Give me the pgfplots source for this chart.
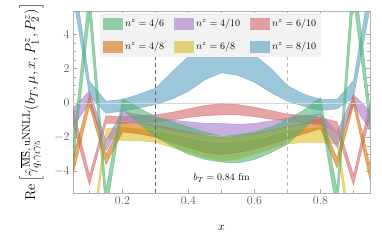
\documentclass[border=0pt]{standalone}
\usepackage{pgfplots}
\pgfplotsset{compat=1.18}
\usepackage{pgfplotstable}
\usepgfplotslibrary{fillbetween}

\definecolor{cgreen}{RGB}{80,180,113}
\definecolor{corange}{RGB}{213,113,13}
\definecolor{cpurple}{RGB}{163,122,205}
\definecolor{cred}{RGB}{213,105,105}
\definecolor{cyellow}{RGB}{218,190,38}
\definecolor{cblue}{RGB}{90,160,192}

\pgfplotstableread{
x lo hi
0.05 6.2 7.9
0.10 0.4 1.25
0.15 -0.6 0.1
0.20 -0.5 0.2
0.25 -0.3 0.5
0.30 -0.1 0.85
0.35 0.22 1.8
0.40 0.68 2.7
0.45 1.35 3.3
0.50 1.75 3.5
0.55 1.6 3.3
0.60 1.2 2.8
0.65 0.6 2.0
0.70 0.1 1.0
0.75 -0.2 0.5
0.80 -0.45 0.2
0.85 -0.35 0.2
0.90 0.3 1.3
0.95 5.5 7.0
}\tblue

\pgfplotstableread{
x lo hi
0.05 -1.2 -0.3
0.10 -4.8 -4.2
0.15 -1.2 -0.75
0.20 -1.2 -0.8
0.25 -1.15 -0.75
0.30 -1.1 -0.7
0.35 -1.0 -0.55
0.40 -0.85 -0.35
0.45 -0.75 -0.15
0.50 -0.7 -0.05
0.55 -0.7 -0.1
0.60 -0.8 -0.25
0.65 -0.95 -0.45
0.70 -1.05 -0.65
0.75 -1.15 -0.75
0.80 -1.3 -0.85
0.85 -1.7 -1.1
0.90 -4.8 -4.2
0.95 -0.8 0.0
}\tred

\pgfplotstableread{
x lo hi
0.05 -1.4 -0.3
0.10 0.0 0.7
0.15 -2.8 -2.2
0.20 -1.0 -0.5
0.25 -1.2 -0.7
0.30 -1.4 -0.85
0.35 -1.6 -1.0
0.40 -1.75 -1.1
0.45 -1.85 -1.2
0.50 -1.9 -1.2
0.55 -1.9 -1.25
0.60 -1.8 -1.2
0.65 -1.6 -1.05
0.70 -1.4 -0.9
0.75 -1.25 -0.75
0.80 -1.15 -0.65
0.85 -2.6 -1.7
0.90 -0.1 0.5
0.95 -1.6 -0.5
}\tpurple

\pgfplotstableread{
x lo hi
0.05 -4.2 -3.2
0.10 -0.2 0.45
0.15 -3.6 -3.0
0.20 -1.7 -1.1
0.25 -1.8 -1.2
0.30 -2.0 -1.3
0.35 -2.3 -1.5
0.40 -2.6 -1.7
0.45 -2.9 -1.9
0.50 -3.0 -2.0
0.55 -2.9 -1.95
0.60 -2.7 -1.8
0.65 -2.4 -1.6
0.70 -2.1 -1.4
0.75 -1.8 -1.2
0.80 -1.5 -0.9
0.85 -3.8 -3.2
0.90 -0.15 0.45
0.95 -4.5 -3.6
}\torange

\pgfplotstableread{
x lo hi
0.05 -9.0 -8.0
0.10 -9.3 -8.3
0.15 -2.1 -1.5
0.20 -2.2 -1.4
0.25 -2.2 -1.5
0.30 -2.3 -1.6
0.35 -2.6 -1.8
0.40 -2.9 -2.0
0.45 -3.2 -2.2
0.50 -3.4 -2.3
0.55 -3.3 -2.2
0.60 -3.0 -2.1
0.65 -2.7 -1.9
0.70 -2.4 -1.6
0.75 -2.3 -1.5
0.80 -2.3 -1.4
0.85 -2.4 -1.6
0.90 -9.5 -8.5
0.95 -9.0 -8.0
}\tyellow

\pgfplotstableread{
x lo hi
0.05 -3.8 -2.4
0.10 5.0 6.8
0.15 -6.5 -5.0
0.20 -0.4 0.25
0.25 -1.2 -0.3
0.30 -2.0 -0.8
0.35 -2.5 -1.1
0.40 -3.0 -1.4
0.45 -3.3 -1.7
0.50 -3.45 -1.95
0.55 -3.5 -1.85
0.60 -3.3 -1.7
0.65 -2.9 -1.4
0.70 -2.4 -1.0
0.75 -1.5 -0.4
0.80 -0.6 0.3
0.85 -6.5 -5.0
0.90 6.0 8.0
0.95 -1.5 -0.3
}\tgreen

\newcommand\band[3]{%
  \addplot[#2, opacity=0.6, line width=0.5pt, name path=#3lo, forget plot] table[x=x,y=lo]{#1};
  \addplot[#2, opacity=0.6, line width=0.5pt, name path=#3hi, forget plot] table[x=x,y=hi]{#1};
  \addplot[fill=#2, fill opacity=0.6, draw=none, forget plot] fill between[of=#3lo and #3hi];
}

\pgfplotsset{myleg/.style={legend image code/.code={\fill[##1] (0pt,-6pt) rectangle (20pt,6pt);}}}

\begin{document}
\begin{tikzpicture}
\begin{axis}[
  width=297pt, height=182pt, scale only axis,
  xmin=0.05, xmax=0.95, ymin=-5.25, ymax=5.35,
  xtick={0.2,0.4,0.6,0.8},
  xticklabels={0.2,0.4,0.6,0.8},
  minor xtick={0.1,0.3,0.5,0.7,0.9},
  ytick={-4,-2,0,2,4},
  minor y tick num=3,
  tick align=inside,
  major tick length=4pt, minor tick length=2.5pt,
  axis line style={black!30},
  every tick/.style={black!35},
  tick label style={font=\fontsize{12}{14}\selectfont, text=black!65},
  no markers,
  xlabel={$x$},
  xlabel style={at={(axis description cs:0.5,-0.192)}, anchor=center, font=\fontsize{13}{15}\selectfont},
  ylabel={$\mathrm{Re}\left[\hat{\gamma}^{\overline{\mathrm{MS}},\,\mathrm{uNNLL}}_{q,\gamma_t\gamma_5}(b_T,\mu,x,P_1^z,P_2^z)\right]$},
  ylabel style={at={(axis description cs:-0.14,0.5)}, anchor=center, font=\fontsize{15.5}{18}\selectfont},
  legend columns=3,
  legend cell align=left,
  legend style={at={(0.091,0.99)}, anchor=north west, fill=black!5, draw=none,
    font=\fontsize{10}{12}\selectfont, inner xsep=3pt, inner ysep=4pt, row sep=10pt,
    /tikz/every even column/.append style={column sep=8pt}},
]
\coordinate (sw) at (rel axis cs:0,0);
\addplot[black!15, line width=0.6pt, forget plot] coordinates {(0.05,0) (0.95,0)};

\addlegendimage{myleg, fill=cgreen, fill opacity=0.6, draw=none}
\addlegendentry{$n^z=4/6$}
\addlegendimage{myleg, fill=cpurple, fill opacity=0.6, draw=none}
\addlegendentry{$n^z=4/10$}
\addlegendimage{myleg, fill=cred, fill opacity=0.6, draw=none}
\addlegendentry{$n^z=6/10$}
\addlegendimage{myleg, fill=corange, fill opacity=0.6, draw=none}
\addlegendentry{$n^z=4/8$}
\addlegendimage{myleg, fill=cyellow, fill opacity=0.6, draw=none}
\addlegendentry{$n^z=6/8$}
\addlegendimage{myleg, fill=cblue, fill opacity=0.6, draw=none}
\addlegendentry{$n^z=8/10$}

\band{\tblue}{cblue}{bl}
\band{\tred}{cred}{rd}
\band{\tyellow}{cyellow}{ye}
\band{\tpurple}{cpurple}{pu}
\band{\torange}{corange}{or}
\band{\tgreen}{cgreen}{gr}

\addplot[black!60, dash pattern=on 4pt off 3pt, forget plot] coordinates {(0.3,-5.25) (0.3,5.35)};
\addplot[black!25, dash pattern=on 4pt off 3pt, forget plot] coordinates {(0.7,-5.25) (0.7,5.35)};

\node[font=\fontsize{10}{12}\selectfont] at (axis cs:0.5,-4.37) {$b_T = 0.84$ fm};
\end{axis}
\pgfresetboundingbox
\path (sw) ++(-73pt,-50pt) rectangle ++(382pt,243pt);
\end{tikzpicture}
\end{document}
